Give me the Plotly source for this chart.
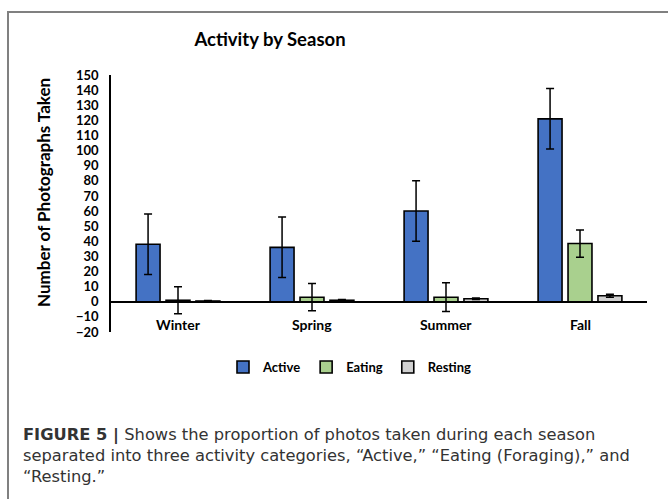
import plotly.graph_objects as go

# Seasonal photo counts by activity, with error ranges
seasons = ["Winter", "Spring", "Summer", "Fall"]
active = [38, 36, 60, 121]
active_err = [20, 20, 20, 20]
eating = [1, 3, 3, 38.5]
eating_err = [9, 9, 9.5, 9]
resting = [0.5, 1, 2, 4]
resting_err = [0.3, 0.5, 0.5, 1]

y_ticks = list(range(-20, 151, 10))

caption_lines = [
    "<b>FIGURE 5 |</b> Shows the proportion of photos taken during each season",
    "separated into three activity categories, \u201cActive,\u201d \u201cEating (Foraging),\u201d and",
    "\u201cResting.\u201d",
]

W, H = 668, 499
L, R, T, B = 111, 21, 75, 167
PW, PH = W - L - R, H - T - B


def px_x(px):
    return (px - L) / PW


def px_y(py):
    return (H - B - py) / PH


bold = "Lato"
series = [
    ("Active", active, active_err, "#4472C4"),
    ("Eating", eating, eating_err, "#A9D08E"),
    ("Resting", resting, resting_err, "#D0D0D0"),
]

fig = go.Figure()
for name, vals, errs, color in series:
    fig.add_trace(go.Bar(
        x=seasons, y=vals, name=name,
        marker=dict(color=color, line=dict(color="black", width=1.6)),
        error_y=dict(type="data", array=errs, visible=True,
                     color="black", thickness=1.5, width=4),
    ))

annotations = [
    dict(text="Number of Photographs Taken", textangle=-90,
         x=px_x(43), y=px_y(193), xref="paper", yref="paper",
         xanchor="center", yanchor="middle",
         showarrow=False, font=dict(family=bold, size=17, color="black", weight="bold")),
    dict(text="<br>".join(caption_lines), x=px_x(21), y=px_y(423),
         xref="paper", yref="paper", xanchor="left", yanchor="top",
         align="left", showarrow=False,
         font=dict(family="DejaVu Sans", size=16.3, color="#333333")),
]
for s in seasons:
    annotations.append(dict(
        text=s, x=s, y=0, xref="x", yref="y", yanchor="top", yshift=-12,
        showarrow=False, font=dict(family=bold, size=14, color="black", weight="bold")))

# Outer frame (left and top edges)
shapes = [
    dict(type="line", xref="paper", yref="paper", x0=px_x(8), x1=px_x(8),
         y0=px_y(12), y1=px_y(H + 5), line=dict(color="#808080", width=2)),
    dict(type="line", xref="paper", yref="paper", x0=px_x(7), x1=px_x(W + 5),
         y0=px_y(12), y1=px_y(12), line=dict(color="#808080", width=2)),
]

fig.update_layout(
    width=W, height=H,
    margin=dict(l=L, r=R, t=T, b=B),
    paper_bgcolor="white", plot_bgcolor="white",
    barmode="group", bargap=0.33, bargroupgap=0.2,
    title=dict(text="Activity by Season", x=270 / W, y=1 - 40 / H,
               xanchor="center", yanchor="middle",
               font=dict(family=bold, size=18.5, color="black", weight="bold")),
    xaxis=dict(showticklabels=False, showline=False, showgrid=False,
               range=[-0.5, 3.5], fixedrange=True),
    yaxis=dict(range=[-20, 150], tickvals=y_ticks, showgrid=False,
               showline=True, linecolor="black", linewidth=1.5,
               zeroline=True, zerolinecolor="black", zerolinewidth=1.5,
               ticks="", ticklabelstandoff=8,
               tickfont=dict(family=bold, size=13, color="black", weight="bold")),
    legend=dict(orientation="h", x=px_x(350), y=px_y(367),
                xanchor="center", yanchor="middle",
                font=dict(family=bold, size=13, color="black", weight="bold"),
                itemwidth=30, tracegroupgap=0),
    annotations=annotations,
    shapes=shapes,
)

fig.write_html("out.html")
